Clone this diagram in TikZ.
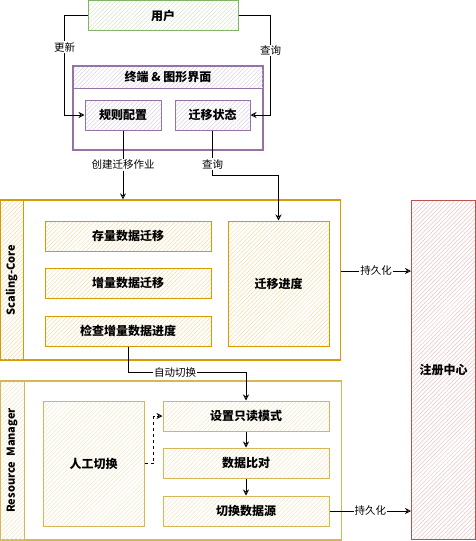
\documentclass[tikz,border=0pt]{standalone}
\usepackage{fontspec}
\setmainfont{Noto Sans CJK SC}
\usetikzlibrary{arrows.meta, positioning, calc, patterns.meta}
\definecolor{usrgreen}{HTML}{82B366}
\definecolor{termpurple}{HTML}{9673A6}
\definecolor{coreorange}{HTML}{D79B00}
\definecolor{rmyellow}{HTML}{D6B656}
\definecolor{regred}{HTML}{B85450}

\begin{document}
\begin{tikzpicture}[
    x=1pt, y=-1pt,
    >={Stealth[open, length=6pt, width=6pt]},
    line width=0.8pt,
    hatch/.style={pattern={Lines[angle=45, distance=3pt, line width=0.5pt]}, pattern color=#1!35},
    box/.style={draw=#1, hatch=#1, line width=1pt, inner sep=0pt,
      font=\fontsize{12}{14}\selectfont\bfseries, text=black},
    frame/.style={draw=#1, line width=1.2pt, inner sep=0pt},
    lbl/.style={fill=white, inner sep=1pt, font=\fontsize{10.5}{12}\selectfont, text=black},
    conn/.style={->, draw=black},
  ]
  \useasboundingbox (0,0) rectangle (476,541);

  % User and terminal
  \node[box=usrgreen, minimum width=150, minimum height=30] (user) at (163,15.5) {用户};
  \node[frame=termpurple, minimum width=190, minimum height=84] (term) at (168,108) {};
  \node[box=termpurple, minimum width=190, minimum height=22] (termhead) at (168,77)
    {终端 \& 图形界面};
  \node[box=termpurple, minimum width=76, minimum height=30] (rule) at (123,115) {规则配置};
  \node[box=termpurple, minimum width=75, minimum height=30] (state) at (212.5,115) {迁移状态};

  % Scaling-Core
  \node[frame=coreorange, minimum width=340, minimum height=160] (core) at (170.5,280) {};
  \node[box=coreorange, minimum width=23, minimum height=160] (corelbl) at (11.5,280)
    {\rotatebox{90}{\fontsize{11}{12}\selectfont Scaling-Core}};
  \node[box=coreorange, minimum width=166, minimum height=30] (full) at (128,236) {存量数据迁移};
  \node[box=coreorange, minimum width=166, minimum height=30] (incr) at (128,283) {增量数据迁移};
  \node[box=coreorange, minimum width=166, minimum height=30] (check) at (128,331) {检查增量数据进度};
  \node[box=coreorange, minimum width=101, minimum height=125] (progress) at (278.5,283.5) {迁移进度};

  % Resource Manager
  \node[frame=rmyellow, minimum width=341, minimum height=159] (rm) at (171,460.5) {};
  \node[box=rmyellow, minimum width=24, minimum height=159] (rmlbl) at (12,460.5)
    {\rotatebox{90}{\fontsize{11}{12}\selectfont Resource\ \ Manager}};
  \node[box=rmyellow, minimum width=101, minimum height=125] (manual) at (93.5,463.5) {人工切换};
  \node[box=rmyellow, minimum width=166, minimum height=30] (readonly) at (246,416) {设置只读模式};
  \node[box=rmyellow, minimum width=166, minimum height=30] (compare) at (246,463) {数据比对};
  \node[box=rmyellow, minimum width=166, minimum height=30] (switchsrc) at (246,511) {切换数据源};

  % Registry
  \node[box=regred, minimum width=64, minimum height=339] (registry) at (443.5,370) {注册中心};

  % Connectors
  \draw[conn] (user.west) -- ++(-23,0) |- (rule.west) node[lbl, pos=0.16] {更新};
  \draw[conn] (user.east) -- ++(32,0) |- (state.east) node[lbl, pos=0.175] {查询};
  \draw[conn] (rule.south) -- (rule.south |- core.north) node[lbl, midway] {创建迁移作业};
  \draw[conn] (state.south) -- ++(0,45) node[lbl, pos=0.75] {查询} -| (progress.north);
  \draw[conn] ([yshift=9pt]core.east) -- ([yshift=9pt]core.east -| registry.west)
    node[lbl, midway] {持久化};
  \draw[conn] (check.south) -- ++(0,26) -| (readonly.north) node[lbl, pos=0.2] {自动切换};
  \draw[conn, dashed] (manual.east) -- ++(9,0) |- (readonly.west);
  \draw[conn] (readonly.south) -- (compare.north);
  \draw[conn] (compare.south) -- (switchsrc.north);
  \draw[conn] (switchsrc.east) -- (switchsrc.east -| registry.west) node[lbl, midway] {持久化};

\end{tikzpicture}
\end{document}
